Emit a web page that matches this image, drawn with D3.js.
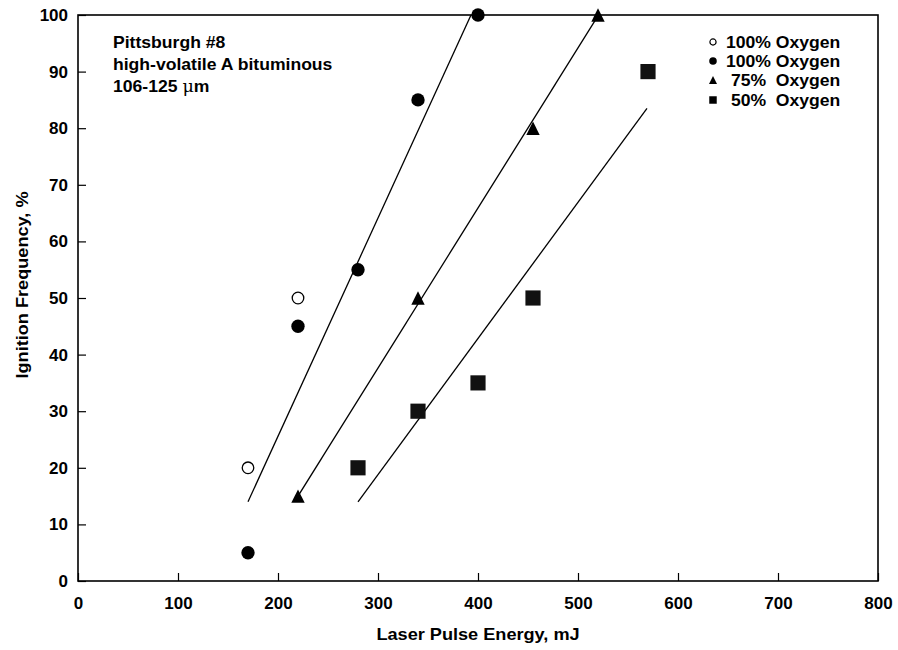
<!DOCTYPE html>
<html>
<head>
<meta charset="utf-8">
<script src="https://cdn.jsdelivr.net/npm/d3@7"></script>
<style>
  html, body { margin: 0; padding: 0; background: #fff; }
  svg text { font-family: "Liberation Sans", Arial, sans-serif; font-weight: bold; fill: #000; }
</style>
</head>
<body>
<svg id="chart" width="898" height="650"></svg>
<script>
// Ignition frequency vs laser pulse energy, Pittsburgh #8 coal
const xTicks = [0, 100, 200, 300, 400, 500, 600, 700, 800];
const yTicks = [0, 10, 20, 30, 40, 50, 60, 70, 80, 90, 100];

const open100 = [[170, 20], [220, 50]];
const filled100 = [[170, 5], [220, 45], [280, 55], [340, 85], [400, 100]];
const oxy75 = [[220, 15], [340, 50], [455, 80], [520, 100]];
const oxy50 = [[280, 20], [340, 30], [400, 35], [455, 50], [570, 90]];

// fitted trend lines (endpoints in data units)
const fit100 = [[170, 14], [393, 100]];
const fit75 = [[220, 15], [517, 99]];
const fit50 = [[280, 14], [569, 83.5]];

const legendLabels = ["100% Oxygen", "100% Oxygen", " 75%  Oxygen", " 50%  Oxygen"];
const noteLines = ["Pittsburgh #8", "high-volatile A bituminous"];

const svg = d3.select("#chart");
const plotL = 78, plotR = 878, plotT = 15, plotB = 581;
const stretch = 1.1; // lettering is set slightly wide

const x = d3.scaleLinear().domain([0, 800]).range([plotL, plotR]);
const y = d3.scaleLinear().domain([0, 100]).range([plotB, plotT]);

// frame
svg.append("rect")
  .attr("x", plotL).attr("y", plotT)
  .attr("width", plotR - plotL).attr("height", plotB - plotT)
  .attr("fill", "none").attr("stroke", "#000").attr("stroke-width", 1.6);

// axes with inward ticks
const xAxis = svg.append("g").attr("transform", `translate(0,${plotB})`)
  .call(d3.axisBottom(x).tickValues(xTicks).tickSize(-8).tickPadding(16).tickFormat(d3.format("d")));
const yAxis = svg.append("g").attr("transform", `translate(${plotL},0)`)
  .call(d3.axisLeft(y).tickValues(yTicks).tickSize(-8).tickPadding(10).tickFormat(d3.format("d")));
[xAxis, yAxis].forEach(g => {
  g.select(".domain").remove();
  g.selectAll(".tick line").attr("stroke", "#000").attr("stroke-width", 1.2);
  g.selectAll(".tick text").style("font-size", "17px").style("font-family", "Liberation Sans, Arial, sans-serif").style("font-weight", "bold");
});

// axis titles
svg.append("text")
  .attr("transform", `translate(${(plotL + plotR) / 2},640) scale(${stretch},1)`)
  .attr("text-anchor", "middle").style("font-size", "16.5px")
  .text("Laser Pulse Energy, mJ");
svg.append("text")
  .attr("transform", `translate(28,285) rotate(-90) scale(${stretch},1)`)
  .attr("text-anchor", "middle").style("font-size", "16.5px")
  .text("Ignition Frequency, %");

// trend lines
const line = d3.line().x(d => x(d[0])).y(d => y(d[1]));
[fit100, fit75, fit50].forEach(f => {
  svg.append("path").attr("d", line(f))
    .attr("fill", "none").attr("stroke", "#000").attr("stroke-width", 1.3);
});

// marker shapes
const triPath = r => `M0,${-r}L${r},${r}L${-r},${r}Z`;

svg.append("g").selectAll("path").data(open100).join("path")
  .attr("transform", d => `translate(${x(d[0])},${y(d[1])})`)
  .attr("d", d3.symbol().type(d3.symbolCircle).size(105)())
  .attr("fill", "#fff").attr("stroke", "#000").attr("stroke-width", 1.3);
svg.append("g").selectAll("path").data(filled100).join("path")
  .attr("transform", d => `translate(${x(d[0])},${y(d[1])})`)
  .attr("d", d3.symbol().type(d3.symbolCircle).size(140)())
  .attr("fill", "#000");
svg.append("g").selectAll("path").data(oxy75).join("path")
  .attr("transform", d => `translate(${x(d[0])},${y(d[1])})`)
  .attr("d", triPath(6.7))
  .attr("fill", "#000");
svg.append("g").selectAll("path").data(oxy50).join("path")
  .attr("transform", d => `translate(${x(d[0])},${y(d[1])})`)
  .attr("d", d3.symbol().type(d3.symbolSquare).size(230)())
  .attr("fill", "#111");

// legend
const legendY = [42, 61, 80, 100];
const legendSyms = [
  { d: d3.symbol().type(d3.symbolCircle).size(30)(), fill: "#fff", stroke: "#000" },
  { d: d3.symbol().type(d3.symbolCircle).size(45)(), fill: "#000", stroke: "none" },
  { d: triPath(4), fill: "#000", stroke: "none" },
  { d: d3.symbol().type(d3.symbolSquare).size(56)(), fill: "#000", stroke: "none" }
];
const legend = svg.append("g");
legendLabels.forEach((lab, i) => {
  const s = legendSyms[i];
  legend.append("path")
    .attr("transform", `translate(713,${legendY[i]})`)
    .attr("d", s.d)
    .attr("fill", s.fill).attr("stroke", s.stroke).attr("stroke-width", 1.2);
  legend.append("text")
    .attr("transform", `translate(726,${legendY[i] + 6}) scale(${stretch},1)`)
    .attr("xml:space", "preserve").style("white-space", "pre")
    .style("font-size", "16px").text(lab);
});

// sample description
const note = svg.append("g");
noteLines.forEach((t, i) => {
  note.append("text")
    .attr("transform", `translate(113,${48 + i * 22}) scale(${stretch},1)`)
    .style("font-size", "16px").text(t);
});
const sizeLine = note.append("text")
  .attr("transform", `translate(113,92) scale(${stretch},1)`)
  .style("font-size", "16px");
sizeLine.append("tspan").text("106-125 ");
sizeLine.append("tspan").style("font-family", "DejaVu Serif, serif").style("font-weight", "normal").text("\u03bc");
sizeLine.append("tspan").text("m");
</script>
</body>
</html>
